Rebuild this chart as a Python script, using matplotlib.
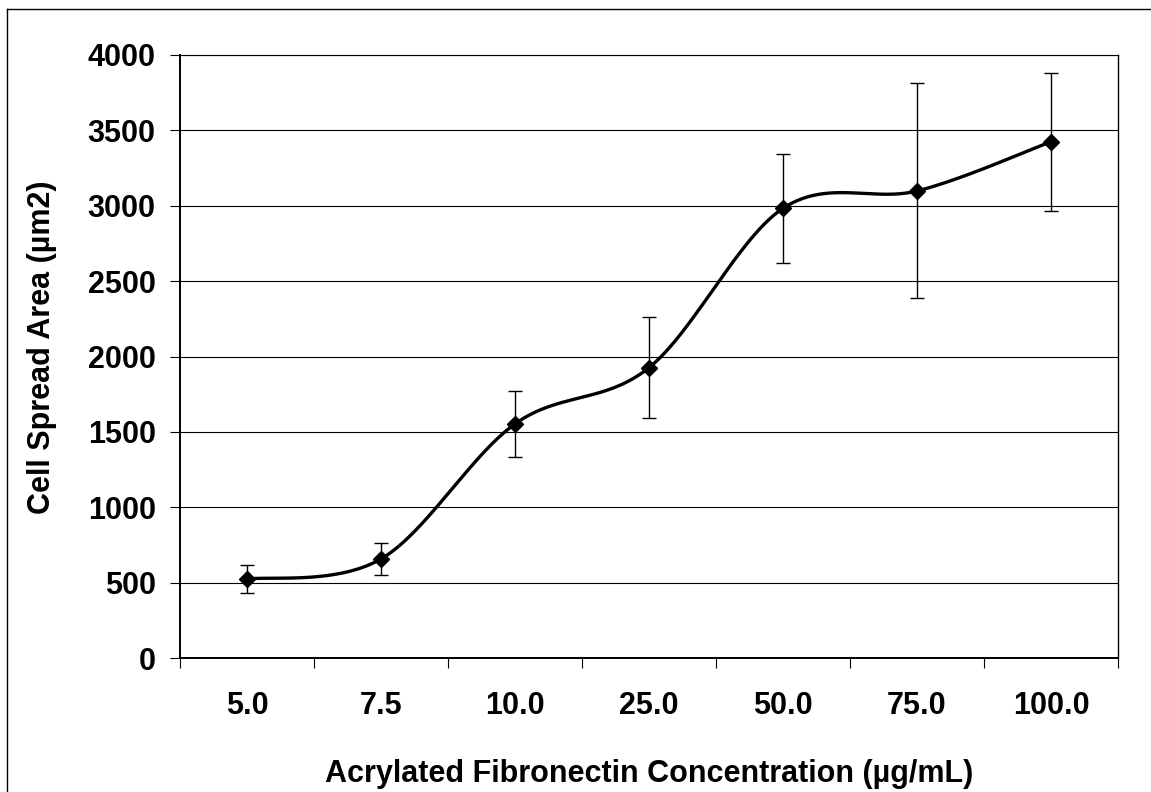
import numpy as np
import matplotlib
matplotlib.use("Agg")
import matplotlib.pyplot as plt
from matplotlib.lines import Line2D

categories = ["5.0", "7.5", "10.0", "25.0", "50.0", "75.0", "100.0"]
spread_area = [523, 657, 1553, 1926, 2983, 3098, 3425]
spread_err = [94, 107, 221, 333, 362, 713, 458]
yticks = [0, 500, 1000, 1500, 2000, 2500, 3000, 3500, 4000]

plt.rcParams['font.family'] = ['Liberation Sans', 'DejaVu Sans']
plt.rcParams['font.weight'] = 'bold'

fig = plt.figure(figsize=(11.51, 7.92), dpi=100)
ax = fig.add_axes([180/1151, 1-658/792, (1118-180)/1151, (658-55)/792])

x = np.arange(len(categories), dtype=float)
y = np.array(spread_area, dtype=float)

# Excel-like smoothed line (Catmull-Rom Bezier)
def smooth(xs, ys, n=60):
    px, py = [], []
    N = len(xs)
    for i in range(N - 1):
        i0 = max(i - 1, 0)
        i3 = min(i + 2, N - 1)
        p0 = np.array([xs[i], ys[i]])
        p1 = np.array([xs[i + 1], ys[i + 1]])
        c1 = p0 + (np.array([xs[i + 1], ys[i + 1]]) - np.array([xs[i0], ys[i0]])) / 6.0
        c2 = p1 - (np.array([xs[i3], ys[i3]]) - np.array([xs[i], ys[i]])) / 6.0
        t = np.linspace(0, 1, n)[:, None]
        pts = ((1 - t) ** 3) * p0 + 3 * ((1 - t) ** 2) * t * c1 + 3 * (1 - t) * t ** 2 * c2 + t ** 3 * p1
        px.extend(pts[:, 0]); py.extend(pts[:, 1])
    return np.array(px), np.array(py)

sx, sy = smooth(x, y)

for v in yticks[1:]:
    ax.axhline(v, color='black', lw=0.8, zorder=1)

ax.errorbar(x, y, yerr=spread_err, fmt='none', ecolor='black', elinewidth=1.0,
            capsize=4.7, capthick=1.0, zorder=2)
ax.plot(sx, sy, color='black', lw=2.4, zorder=3, solid_capstyle='round')
ax.plot(x, y, linestyle='none', marker='D', markersize=8.5, color='black', zorder=4)

ax.set_xlim(-0.5, len(categories) - 0.5)
ax.set_ylim(0, 4000)
ax.set_yticks(yticks)
ax.set_yticklabels([str(v) for v in yticks])
ax.set_xticks(np.arange(len(categories) + 1) - 0.5)
ax.set_xticklabels([])
ax.set_xticks(x, minor=True)
ax.set_xticklabels(categories, minor=True)
ax.tick_params(axis='x', which='major', direction='out', length=7.5, width=0.8, color='black')
ax.tick_params(axis='x', which='minor', length=0, pad=24, labelsize=22)
ax.tick_params(axis='y', direction='out', length=7.5, width=0.8, pad=10, labelsize=22)

for s in ['left', 'bottom']:
    ax.spines[s].set_linewidth(1.4)
ax.spines['right'].set_linewidth(1.0)
ax.spines['top'].set_linewidth(0.8)

ax.set_xlabel("Acrylated Fibronectin Concentration (µg/mL)", fontsize=22, fontweight='bold', labelpad=27)
ax.set_ylabel("Cell Spread Area (µm2)", fontsize=22, fontweight='bold', labelpad=22)
ax.yaxis.label.set_y(0.515)

# chart area border (left and top visible)
fig.add_artist(Line2D([6.5/1151, 6.5/1151], [0, 1-9/792], transform=fig.transFigure, color='black', lw=1.0))
fig.add_artist(Line2D([6.5/1151, 1], [1-9/792, 1-9/792], transform=fig.transFigure, color='black', lw=1.0))

fig.savefig("out.png", dpi=100)
